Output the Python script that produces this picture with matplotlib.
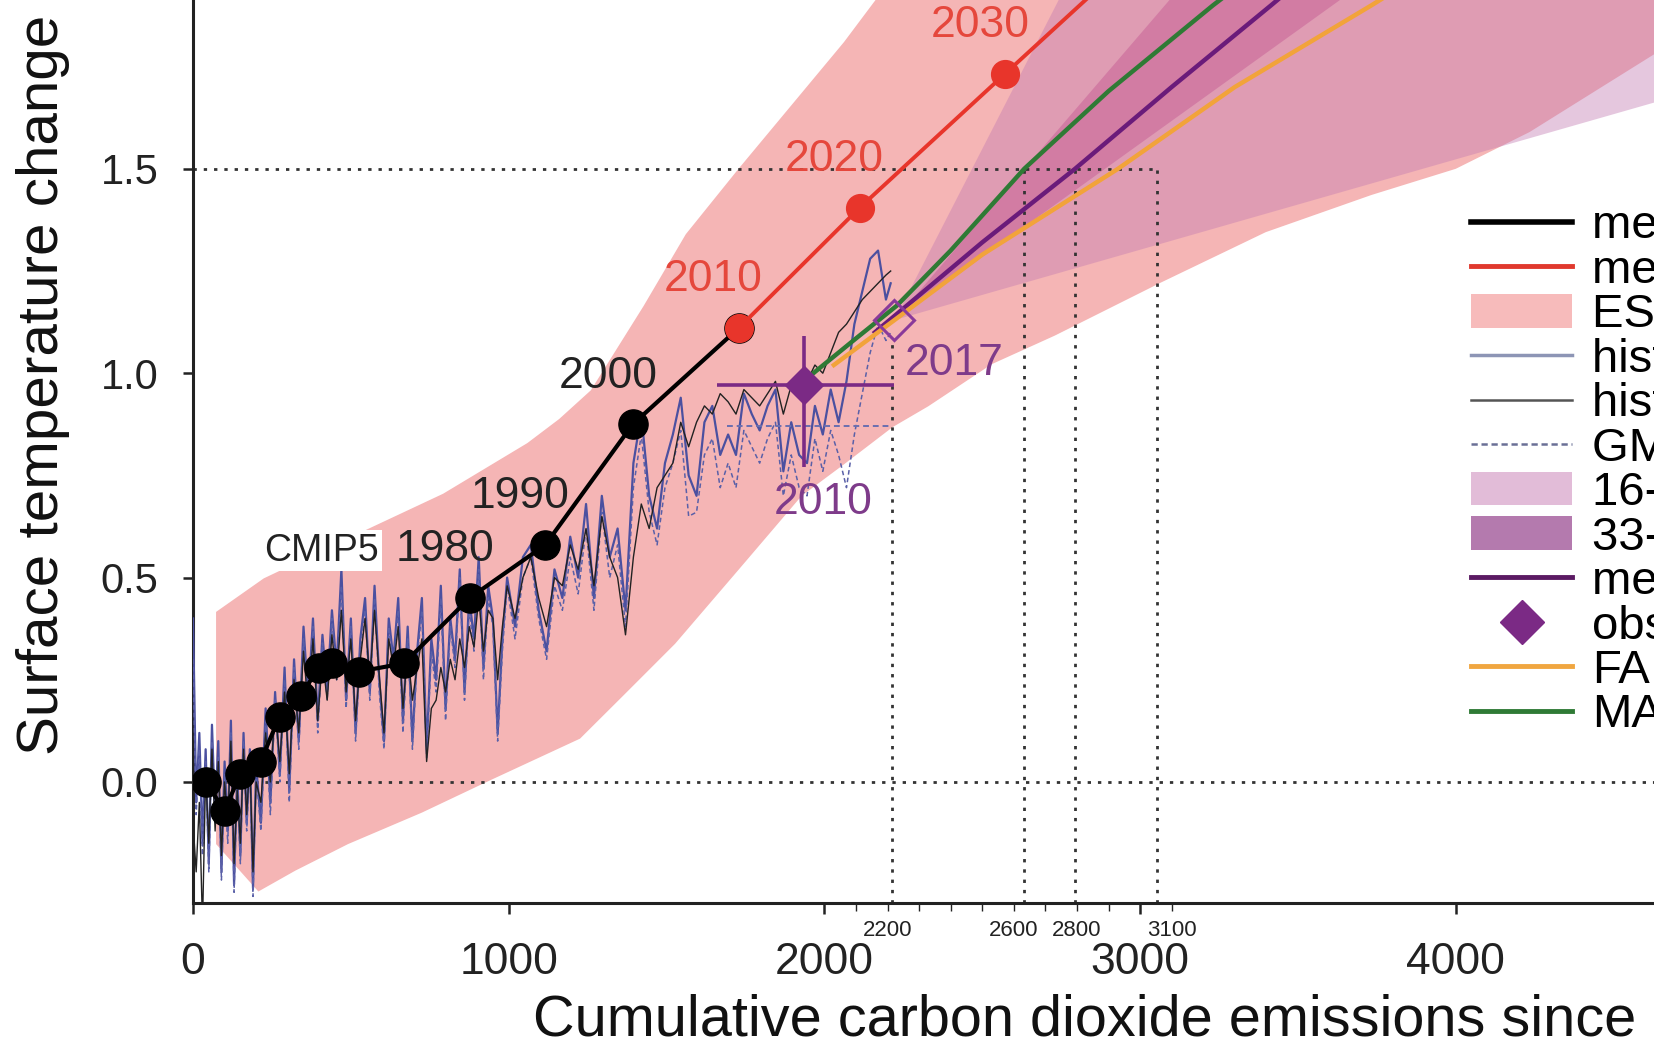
import matplotlib
matplotlib.use("Agg")
import matplotlib.pyplot as plt
from matplotlib.lines import Line2D
from matplotlib.patches import Patch

plt.rcParams['font.family'] = ['Liberation Sans', 'DejaVu Sans']

# ---- ESM mean, historical (black) and RCP8.5 (red) ----
esm_hist_x = [40, 100, 150, 214, 274, 341, 398, 441, 525, 668, 876, 1116, 1393, 1728]
esm_hist_y = [0.00, -0.07, 0.02, 0.05, 0.16, 0.21, 0.28, 0.29, 0.27, 0.29, 0.45, 0.58, 0.875, 1.11]
esm_hist_years = {10: "1980", 11: "1990", 12: "2000"}

esm_rcp_x = [1728, 2112, 2573, 2950]
esm_rcp_y = [1.11, 1.405, 1.733, 2.00]
esm_rcp_years = {0: "2010", 1: "2020", 2: "2030"}

# ---- ESM range plume ----
esm_upper_x = [73, 224, 491, 792, 1059, 1160, 1260, 1427, 1561, 1728, 1895, 2062, 2162, 2229, 4800]
esm_upper_y = [0.416, 0.498, 0.596, 0.705, 0.829, 0.888, 0.958, 1.164, 1.34, 1.50, 1.655, 1.81, 1.913, 2.00, 2.00]
esm_lower_x = [73, 207, 324, 491, 725, 930, 1226, 1360, 1527, 1728, 1928, 2062, 2216, 2329, 2530,
               2730, 3064, 3398, 3733, 4000, 4234, 4628, 4800]
esm_lower_y = [-0.152, -0.268, -0.217, -0.152, -0.075, 0.0, 0.106, 0.209, 0.338, 0.519, 0.70, 0.777,
               0.868, 0.919, 1.022, 1.092, 1.221, 1.345, 1.436, 1.50, 1.59, 1.78, 1.85]

# ---- TCRE ranges from 2017 ----
range_16_84_x = [2222, 2800, 4800, 4800]
range_16_84_y = [1.13, 2.00, 2.00, 1.70]
range_33_67_x = [2222, 3190, 3790]
range_33_67_y = [1.13, 2.00, 2.00]

median_x = [2160, 2222, 2500, 2794, 3100, 3415, 3600]
median_y = [1.10, 1.14, 1.32, 1.50, 1.70, 1.90, 2.02]
fair_x = [2030, 2222, 2500, 2930, 3300, 3733, 3900]
fair_y = [1.02, 1.13, 1.29, 1.50, 1.70, 1.90, 1.98]
magicc_x = [1965, 2100, 2229, 2400, 2633, 2900, 3231, 3400]
magicc_y = [1.00, 1.085, 1.165, 1.30, 1.50, 1.69, 1.90, 2.00]

# ---- observations ----
hist_x = [0, 10, 20, 30, 40, 50, 60, 70, 80, 90, 100, 110, 120, 130, 140, 150, 160, 170, 180, 190, 200,
          215, 230, 245, 260, 275, 290, 305, 320, 335, 350, 365, 380, 395, 410, 425, 440, 455, 470, 485,
          500, 515, 530, 545, 560, 575, 590, 605, 620, 635, 650, 665, 680, 695, 710, 725, 740, 755, 770,
          785, 800, 815, 830, 845, 860, 875, 890, 905, 920, 935, 950, 965, 980, 995,
          1020, 1045, 1070, 1095, 1120, 1145, 1170, 1195, 1220, 1245, 1270, 1295, 1320, 1345, 1370, 1395,
          1420, 1445, 1470, 1495, 1520, 1545, 1570, 1595, 1620, 1645, 1670, 1695, 1720, 1745, 1770, 1795,
          1820, 1845, 1870, 1895, 1920, 1945, 1970, 1995, 2020, 2045, 2070, 2095, 2120, 2145, 2170, 2195, 2210]
hist_blue = [0.40, -0.05, 0.12, -0.15, 0.08, -0.20, 0.14, -0.08, 0.10, -0.22, 0.05, -0.12, 0.15, -0.25,
             0.02, -0.18, 0.12, -0.10, 0.08, -0.26, 0.04,
             -0.10, 0.18, -0.05, 0.22, 0.02, 0.28, -0.02, 0.30, 0.10, 0.38, 0.20, 0.40, 0.15, 0.36, 0.22,
             0.42, 0.28, 0.52, 0.20, 0.40, 0.12, 0.35, 0.45, 0.22, 0.48, 0.25, 0.10, 0.40, 0.30, 0.45,
             0.15, 0.38, 0.10, 0.32, 0.45, 0.08, 0.35, 0.25, 0.48, 0.18, 0.40, 0.30, 0.52, 0.22, 0.45,
             0.35, 0.55, 0.28, 0.48, 0.40, 0.12, 0.35, 0.50,
             0.38, 0.55, 0.58, 0.42, 0.32, 0.52, 0.45, 0.60, 0.50, 0.68, 0.45, 0.70, 0.55, 0.62, 0.42,
             0.78, 0.90, 0.70, 0.62, 0.78, 0.85, 0.94, 0.75, 0.70, 0.88, 0.92, 0.80, 0.85, 0.80, 0.95,
             0.90, 0.86, 0.92, 0.96, 0.76, 0.88, 0.80, 0.78, 0.92, 0.85, 0.96, 0.88, 0.98, 1.12, 1.20,
             1.28, 1.30, 1.18, 1.22]
hist_black = [-0.10, -0.22, -0.05, -0.35, 0.02, -0.15, 0.08, -0.12, 0.05, -0.18, 0.00, -0.10, 0.10, -0.20,
              -0.02, -0.15, 0.08, -0.08, 0.05, -0.22, 0.00,
              -0.05, 0.12, 0.00, 0.18, 0.05, 0.22, 0.02, 0.25, 0.12, 0.32, 0.18, 0.35, 0.15, 0.30, 0.20,
              0.36, 0.25, 0.42, 0.22, 0.35, 0.15, 0.30, 0.40, 0.25, 0.42, 0.26, 0.12, 0.35, 0.28, 0.38,
              0.18, 0.32, 0.20, 0.28, 0.35, 0.05, 0.18, 0.20, 0.28, 0.22, 0.30, 0.25, 0.35, 0.28, 0.38,
              0.33, 0.45, 0.32, 0.42, 0.40, 0.25, 0.38, 0.48,
              0.40, 0.50, 0.55, 0.45, 0.38, 0.50, 0.48, 0.58, 0.52, 0.62, 0.48, 0.65, 0.55, 0.50, 0.36,
              0.55, 0.68, 0.62, 0.72, 0.75, 0.78, 0.88, 0.82, 0.88, 0.92, 0.90, 0.95, 0.93, 0.90, 0.96,
              0.94, 0.92, 0.95, 0.98, 0.90, 0.97, 0.95, 0.98, 1.02, 1.00, 1.05, 1.10, 1.12, 1.15, 1.18,
              1.20, 1.22, 1.24, 1.25]
hist_gmst = [0.30, -0.08, 0.08, -0.18, 0.05, -0.22, 0.10, -0.10, 0.06, -0.24, 0.02, -0.15, 0.12, -0.27,
             0.00, -0.20, 0.10, -0.12, 0.05, -0.28, 0.02,
             -0.12, 0.15, -0.08, 0.20, 0.00, 0.25, -0.05, 0.28, 0.08, 0.35, 0.18, 0.38, 0.12, 0.34, 0.20,
             0.40, 0.25, 0.48, 0.18, 0.38, 0.10, 0.32, 0.42, 0.20, 0.45, 0.22, 0.08, 0.38, 0.28, 0.42,
             0.12, 0.35, 0.08, 0.30, 0.42, 0.06, 0.32, 0.22, 0.45, 0.15, 0.38, 0.28, 0.50, 0.20, 0.42,
             0.32, 0.52, 0.25, 0.45, 0.38, 0.10, 0.32, 0.48,
             0.35, 0.50, 0.55, 0.40, 0.30, 0.48, 0.42, 0.55, 0.46, 0.62, 0.42, 0.66, 0.50, 0.58, 0.38,
             0.72, 0.85, 0.66, 0.58, 0.72, 0.78, 0.86, 0.65, 0.66, 0.80, 0.84, 0.72, 0.78, 0.72, 0.86,
             0.82, 0.78, 0.84, 0.88, 0.70, 0.80, 0.72, 0.70, 0.84, 0.76, 0.86, 0.80, 0.72, 0.85, 0.95,
             1.05, 1.12, 1.08, 1.10]
gmst_2010_x = [1690, 2215]
gmst_2010_y = [0.87, 0.87]

obs_2010 = (1935, 0.97)
obs_2010_xrange = (1661, 2219)
obs_2010_yrange = (0.77, 1.09)
obs_2017 = (2222, 1.13)

budget_x = [2215, 2633, 2794, 3054]
budget_top = [1.075, 1.5, 1.5, 1.5]
minor_ticks = [2100, 2200, 2300, 2400, 2500, 2600, 2700, 2800, 2900, 3100]
minor_labels = ["", "2200", "", "", "", "2600", "", "2800", "", "3100"]

legend_labels = ["mean of CMIP5 ESMs, historical", "mean of CMIP5 ESMs, RCP8.5", "ESM 5-95% range",
                 "historical GMST, blended", "historical GSAT", "GMST 2010", "16-84% TCRE range",
                 "33-67% TCRE range", "median TCRE", "observed 2010", "FAIR", "MAGICC"]

PURPLE = "#7B2A85"

fig = plt.figure(figsize=(16.54, 10.53), dpi=100)
ax = fig.add_axes([0.1167, 0.1425, 0.8833, 0.8575])
ax.set_xlim(0, 4628)
ax.set_ylim(-0.296, 1.913)

# plumes
ax.fill(esm_upper_x + esm_lower_x[::-1], esm_upper_y + esm_lower_y[::-1],
        color="#F5B5B5", lw=0, zorder=1)
ax.fill(range_16_84_x, range_16_84_y, color="#C27AB2", alpha=0.42, lw=0, zorder=1.1)
ax.fill(range_33_67_x, range_33_67_y, color="#C0508F", alpha=0.42, lw=0, zorder=1.2)

# dotted guides
dots = dict(color="#333333", lw=2, ls=(0, (1.2, 2.5)), zorder=2)
ax.axhline(0.0, **dots)
ax.plot([0, budget_x[-1]], [1.5, 1.5], **dots)
for bx, bt in zip(budget_x, budget_top):
    ax.plot([bx, bx], [-0.296, bt], **dots)

# observations
ax.plot(hist_x, hist_blue, color="#4B50A0", lw=1.6, zorder=3)
ax.plot(hist_x, hist_gmst, color="#5A60A8", lw=1.1, ls=(0, (3, 2)), zorder=3)
ax.plot(hist_x, hist_black, color="#222222", lw=1.0, zorder=3)
ax.plot(gmst_2010_x, gmst_2010_y, color="#6A6FB0", lw=1.4, ls=(0, (3, 2)), zorder=3)

# model lines
ax.plot(magicc_x, magicc_y, color="#2F7A35", lw=3.2, zorder=4)
ax.plot(median_x, median_y, color="#6A1B7A", lw=3.2, zorder=4)
ax.plot(fair_x, fair_y, color="#F2A33A", lw=3.2, zorder=4)

ox, oy = obs_2010
ax.errorbar([ox], [oy], xerr=[[ox - obs_2010_xrange[0]], [obs_2010_xrange[1] - ox]],
            yerr=[[oy - obs_2010_yrange[0]], [obs_2010_yrange[1] - oy]],
            fmt="D", ms=19, color=PURPLE, elinewidth=2.6, capsize=0, zorder=5)
ax.plot(*obs_2017, marker="D", ms=20, mfc="none", mec="#8A3A9A", mew=2.2, zorder=5)

# ESM means
ax.plot(esm_hist_x, esm_hist_y, color="black", lw=3, marker="o", ms=21, zorder=6)
ax.plot(esm_rcp_x, esm_rcp_y, color="#E8352B", lw=2.8, zorder=6)
ax.plot(esm_rcp_x[:3], esm_rcp_y[:3], "o", color="#E8352B", ms=20, zorder=6.5)

for i, lab in esm_hist_years.items():
    ax.annotate(lab, (esm_hist_x[i], esm_hist_y[i]), xytext=(-18, 38), textcoords="offset points",
                ha="center", va="center_baseline", fontsize=32, color="#222222", zorder=7)
for i, lab in esm_rcp_years.items():
    ax.annotate(lab, (esm_rcp_x[i], esm_rcp_y[i]), xytext=(-18, 38), textcoords="offset points",
                ha="center", va="center_baseline", fontsize=32, color="#E5473C", zorder=7,
                annotation_clip=False)
ax.annotate("2010", obs_2010, xytext=(14, -81), textcoords="offset points",
            ha="center", va="center_baseline", fontsize=32, color="#7E3B8A", zorder=7)
ax.annotate("2017", obs_2017, xytext=(43, -28), textcoords="offset points",
            ha="center", va="center_baseline", fontsize=32, color="#7E3B8A", zorder=7)
ax.text(408, 0.576, "CMIP5", ha="center", va="center_baseline", fontsize=27, color="#222222",
        bbox=dict(facecolor="white", edgecolor="none", pad=2), zorder=7)

# axes
for s in ["top", "right"]:
    ax.spines[s].set_visible(False)
for s in ["left", "bottom"]:
    ax.spines[s].set_linewidth(2.2)
    ax.spines[s].set_color("#222222")
ax.set_yticks([0, 0.5, 1.0, 1.5], labels=["0.0", "0.5", "1.0", "1.5"])
ax.set_xticks([0, 1000, 2000, 3000, 4000])
ax.set_xticks(minor_ticks, labels=minor_labels, minor=True)
ax.tick_params(axis="y", length=7, width=1.8, pad=18, labelsize=30, colors="#222222")
ax.tick_params(axis="x", which="major", length=8, width=1.8, pad=20, labelsize=32, colors="#222222")
ax.tick_params(axis="x", which="minor", length=6, width=1, pad=6, labelsize=16, colors="#222222")

ax.set_xlabel("Cumulative carbon dioxide emissions since", fontsize=41.5, ha="left", color="#111111")
ax.xaxis.set_label_coords(0.2327, -0.10)
ax.set_ylabel("Surface temperature change", fontsize=42, va="center", color="#111111")
ax.yaxis.set_label_coords(-0.1027, 0.574)

handles = [
    Line2D([], [], color="black", lw=4),
    Line2D([], [], color="#E0392E", lw=3.5),
    Patch(facecolor="#F7BBBB", edgecolor="none"),
    Line2D([], [], color="#8D95B5", lw=2.5),
    Line2D([], [], color="#555555", lw=1.8),
    Line2D([], [], color="#6A7096", lw=1.8, ls=(0, (2.5, 1.5))),
    Patch(facecolor="#E2BCD8", edgecolor="none"),
    Patch(facecolor="#B47AAE", edgecolor="none"),
    Line2D([], [], color="#5B1A63", lw=3.5),
    Line2D([], [], color=PURPLE, lw=0, marker="D", ms=22),
    Line2D([], [], color="#F0A640", lw=3.5),
    Line2D([], [], color="#2F7A35", lw=3.5),
]
fig.legend(handles, legend_labels, loc="upper left", bbox_to_anchor=(0.8894, 0.806),
           frameon=False, fontsize=34, handlelength=2.14, handleheight=0.72, handletextpad=0.42,
           labelspacing=0.01, borderpad=0, borderaxespad=0)

fig.savefig("out.png", dpi=100)
